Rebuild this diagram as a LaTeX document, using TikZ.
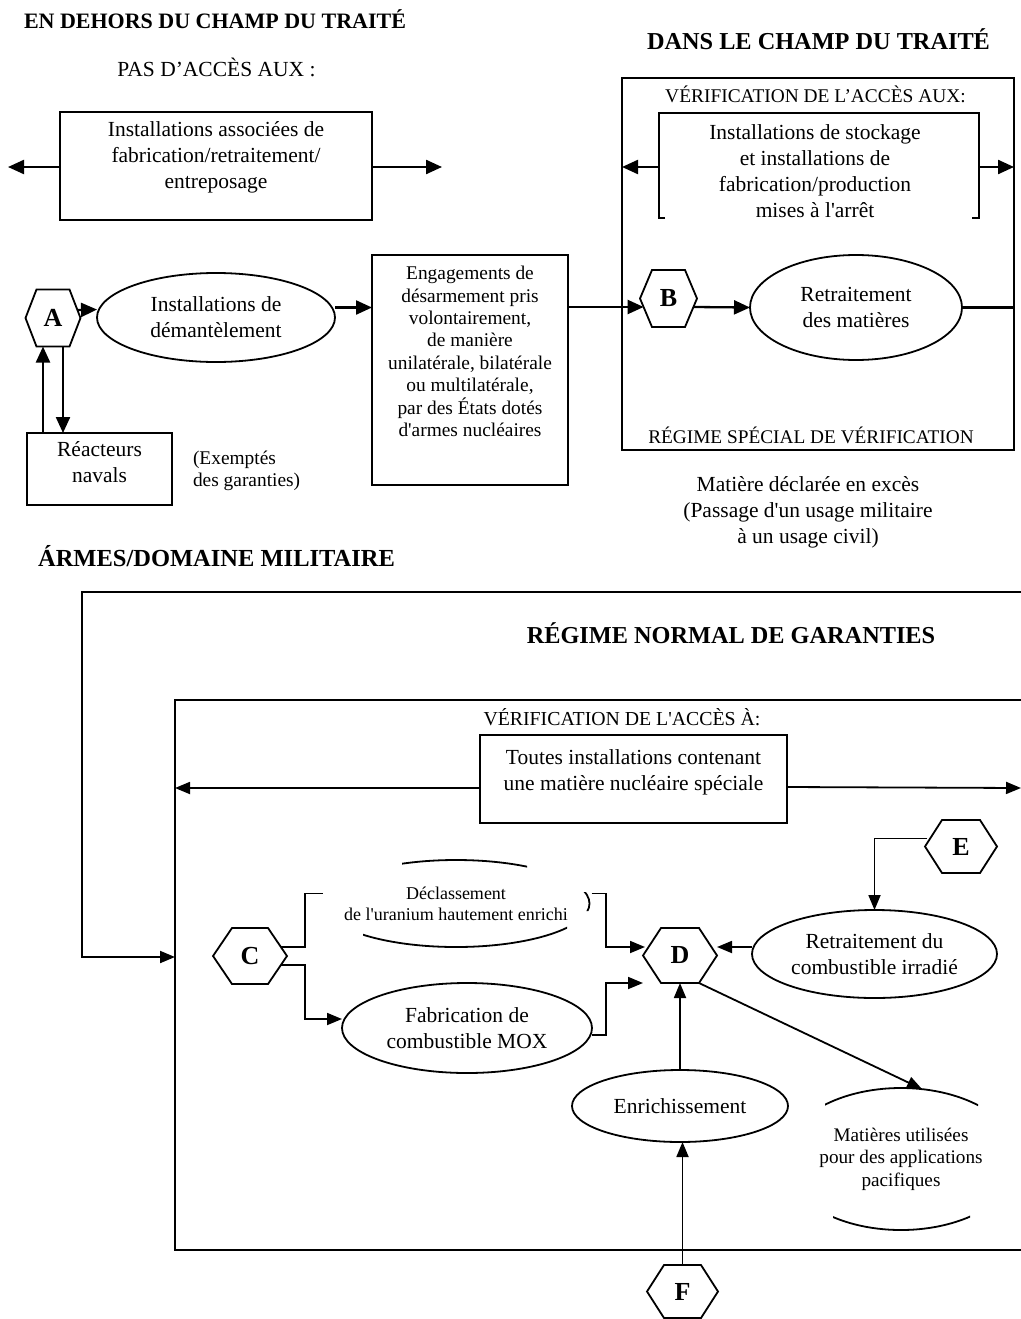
\documentclass[tikz,border=0pt]{standalone}
\usepackage{fontspec}
\setmainfont{Liberation Serif}
\usetikzlibrary{arrows.meta,shapes.geometric,calc}
\newcommand\sq{\textquotesingle}
\newcommand\hexnode[7]{%
  \node[hexlab, minimum width=#4pt, minimum height=#5pt] (#1) at (#2,#3) {#7};
  \draw[hexline] (#1.west) -- ([xshift=#6pt]#1.north west) -- ([xshift=-#6pt]#1.north east) -- (#1.east)
     -- ([xshift=-#6pt]#1.south east) -- ([xshift=#6pt]#1.south west) -- cycle;}
\tikzset{
  fmain/.style={font=\fontsize{21.5}{26}\selectfont},
  fmid/.style={font=\fontsize{19.4}{22.4}\selectfont},
  fsmall/.style={font=\fontsize{18}{21}\selectfont},
  txt/.style={align=center, inner sep=0pt, outer sep=0pt},
  title/.style={inner sep=0pt, anchor=base, font=\bfseries\fontsize{#1}{#1}\selectfont},
  boxshape/.style={draw, line width=1.9pt, inner sep=0pt, outer sep=0pt},
  ell/.style={draw, ellipse, line width=1.8pt, inner sep=0pt, outer sep=0pt, align=center},
  hidden/.style={inner sep=0pt, outer sep=0pt, align=center},
  hexlab/.style={inner sep=0pt, outer sep=0pt, font=\bfseries\fontsize{26}{26}\selectfont},
  hexline/.style={line width=1.8pt, line join=miter},
  arr/.style={line width=1.8pt, -{Triangle[length=15pt,width=12pt]}},
  arrb/.style={line width=2.3pt, -{Triangle[length=16pt,width=14pt]}},
  ln/.style={line width=1.8pt},
}
\begin{document}
\begin{tikzpicture}[x=1pt,y=-1pt]
\useasboundingbox (0,0) rectangle (1020,1319);

% ---------- titles ----------
\node[title=22] (t1) at (215,28.3) {EN DEHORS DU CHAMP DU TRAITÉ};
\node[title=24.3] (t2) at (818.5,50) {DANS LE CHAMP DU TRAITÉ};
\node[title=24.5] (t3) at (216.5,566.7) {ÁRMES/DOMAINE MILITAIRE};
\node[title=24.3] (t4) at (731,643) {RÉGIME NORMAL DE GARANTIES};

% ---------- outside treaty ----------
\node[fmain, inner sep=0pt, anchor=base] (pas) at (216.5,76.7) {PAS D’ACCÈS AUX :};
\node[boxshape, minimum width=312pt, minimum height=108pt] (assoc) at (216,166) {};
\node[txt, fmain] (assoct) at (216,157) {Installations associées de\\fabrication/retraitement/\\entreposage};
\coordinate (aL) at (8,167);
\coordinate (aR) at (442,167);
\draw[arrb] ([yshift=-1pt]assoc.west) -- (aL);
\draw[arrb] ([yshift=-1pt]assoc.east) -- (aR);

% A, dismantling, naval reactors
\hexnode{A}{53}{318}{55}{57}{11}{A}
\node[ell, fmain, minimum width=238pt, minimum height=89pt] (dem) at (216,317.5) {Installations de\\démantèlement};
\node[boxshape, minimum width=196pt, minimum height=230pt] (eng) at (470,370) {};
\node[txt, fmid] (engt) at (470,351.5) {Engagements de\\désarmement pris\\volontairement,\\de manière\\unilatérale, bilatérale\\ou multilatérale,\\par des États dotés\\d\sq armes nucléaires};
\draw[arrb] ([xshift=-3pt,yshift=8pt]A.east) -- ([yshift=8pt]dem.west);
\draw[arrb] ([yshift=10pt]dem.east) -- ([yshift=10pt]dem.east -| eng.west);

\node[boxshape, minimum width=145pt, minimum height=72pt] (reac) at (99.5,469) {};
\node[txt, fmain] (react) at (99.5,462.5) {Réacteurs\\navals};
\draw[arrb] ([xshift=-10pt]A.south |- reac.north) -- ([xshift=-10pt]A.south);
\draw[arrb] ([xshift=10pt]A.south) -- ([xshift=10pt]A.south |- reac.north);
\node[hidden, fmid, align=left, anchor=west] (exempt) at (193,471) {(Exemptés\\des garanties)};

% ---------- inside treaty ----------
\node[boxshape, minimum width=392pt, minimum height=372pt] (dans) at (818,264) {};
\node[font=\fontsize{19.4}{22}\selectfont, inner sep=0pt, anchor=base] (verif1) at (815.5,103) {VÉRIFICATION DE L’ACCÈS AUX:};
\node[hidden, minimum width=320pt, minimum height=105pt] (stock) at (819,165.5) {};
\draw[line width=1.9pt] ([xshift=6pt]stock.south west) -- (stock.south west) -- (stock.north west) -- (stock.north east) -- (stock.south east) -- ([xshift=-7pt]stock.south east);
\node[txt, fmain] (stockt) at (815,171) {Installations de stockage\\et installations de\\fabrication/production\\mises à l\sq arrêt};
\draw[arrb] ([yshift=-1.5pt]stock.west) -- ([yshift=-1.5pt]stock.west -| dans.west);
\draw[arrb] ([yshift=-1.5pt]stock.east) -- ([yshift=-1.5pt]stock.east -| dans.east);

\hexnode{B}{668.5}{298.5}{57}{57}{12}{B}
\node[ell, fmain, minimum width=212pt, minimum height=105pt] (ret1) at (856,307.5) {Retraitement\\des matières};
\coordinate (Bin) at ([xshift=3.6pt,yshift=-8.5pt]B.west);
\draw[arrb] (eng.east |- Bin) -- (Bin);
\draw[arrb] ([xshift=-3.6pt,yshift=-8.5pt]B.east) -- (ret1.west);
\draw[line width=2.2pt] (ret1.east) -- (ret1.east -| dans.east);
\node[font=\fontsize{19.3}{22}\selectfont, inner sep=0pt, anchor=base] (regs) at (811,443) {RÉGIME SPÉCIAL DE VÉRIFICATION};
\node[txt, fmain] (excess) at (808,512) {Matière déclarée en excès\\(Passage d\sq un usage militaire\\à un usage civil)};

% ---------- military / normal regime ----------
\node[boxshape, minimum width=900pt, minimum height=550pt] (inner) at (625,975) {};
\coordinate (mtr) at (1030,592);
\coordinate (mtl) at (82,592);
\coordinate (mbl) at (82,957);
\draw[arr, line width=2pt] (mtr) -- (mtl) -- (mbl) -- (mbl -| inner.west);

\node[font=\fontsize{19.8}{22}\selectfont, inner sep=0pt, anchor=base] (verif2) at (622,725) {VÉRIFICATION DE L\sq ACCÈS À:};
\node[boxshape, minimum width=307pt, minimum height=88pt] (toutes) at (633.5,779) {};
\node[txt, fmain] (toutest) at (633.5,772) {Toutes installations contenant\\une matière nucléaire spéciale};
\coordinate (tR) at (1021,788);
\draw[arr] ([yshift=-9pt]toutes.west) -- ([yshift=-9pt]toutes.west -| inner.west);
\draw[arr] ([yshift=-8pt]toutes.east) -- (tR);

% C and branches
\hexnode{C}{250}{956}{74}{56}{19}{C}
\node[hidden, fsmall, minimum width=267pt, minimum height=87pt] (decl) at (456,903.5) {Déclassement\\de l\sq uranium hautement enrichi};
\begin{scope}
  \clip (402,850) rectangle (527,880) (363,925) rectangle (567,955) (575,892) rectangle (600,911);
  \draw[line width=1.8pt] (decl.center) ellipse [x radius=133.5, y radius=43.5];
\end{scope}
\node[ell, fmain, minimum width=250pt, minimum height=90pt] (mox) at (467,1028) {Fabrication de\\combustible MOX};

\draw[ln] ([xshift=-6pt,yshift=9pt]C.east) -| ([xshift=-17.5pt,yshift=10pt]decl.west) -- ([yshift=10pt]decl.west);
\draw[arr] ([xshift=-6pt,yshift=-9pt]C.east) -| ([xshift=-37pt,yshift=9pt]mox.west) -- ([yshift=9pt]mox.west);

% D
\hexnode{D}{680}{955.5}{74}{55}{18}{D}
\draw[arr] ([xshift=2pt,yshift=10pt]decl.east) -| ([xshift=-37pt,yshift=8.5pt]D.west) -- ([xshift=2pt,yshift=8.5pt]D.west);
\draw[arr] ([yshift=-7pt]mox.east) -| ([xshift=-37pt,yshift=-27.5pt]D.west) -- ([yshift=-27.5pt]D.west);

% E and irradiated fuel reprocessing
\hexnode{E}{961}{846.5}{72}{53}{17}{E}
\node[ell, fmain, minimum width=245pt, minimum height=88pt] (ret2) at (874.5,954) {Retraitement du\\combustible irradié};
\draw[arr] ([xshift=2pt,yshift=8pt]E.west) -| (ret2.north);
\draw[arr] ([yshift=7pt]ret2.west) -- ([yshift=7pt]ret2.west -| D.east);

% enrichment, F
\node[ell, fmain, minimum width=216pt, minimum height=72pt] (enr) at (680,1106) {Enrichissement};
\draw[arr] (enr.north) -- (D.south);
\hexnode{F}{682.5}{1291.5}{71}{53}{17}{F}
\draw[arr] (F.north) -- (F.north |- enr.south);

% peaceful uses
\node[hidden, font=\fontsize{19.2}{22.5}\selectfont, minimum width=236pt, minimum height=142pt] (mat) at (901,1159) {Matières utilisées\\pour des applications\\pacifiques};
\begin{scope}
  \clip (825,1080) rectangle (978,1106) (833,1212) rectangle (970,1240);
  \draw[line width=1.8pt] (mat.center) ellipse [x radius=118, y radius=71];
\end{scope}
\draw[arr] ([xshift=-18pt]D.south east) -- ([xshift=21pt,yshift=70pt]mat.center);
\end{tikzpicture}
\end{document}
